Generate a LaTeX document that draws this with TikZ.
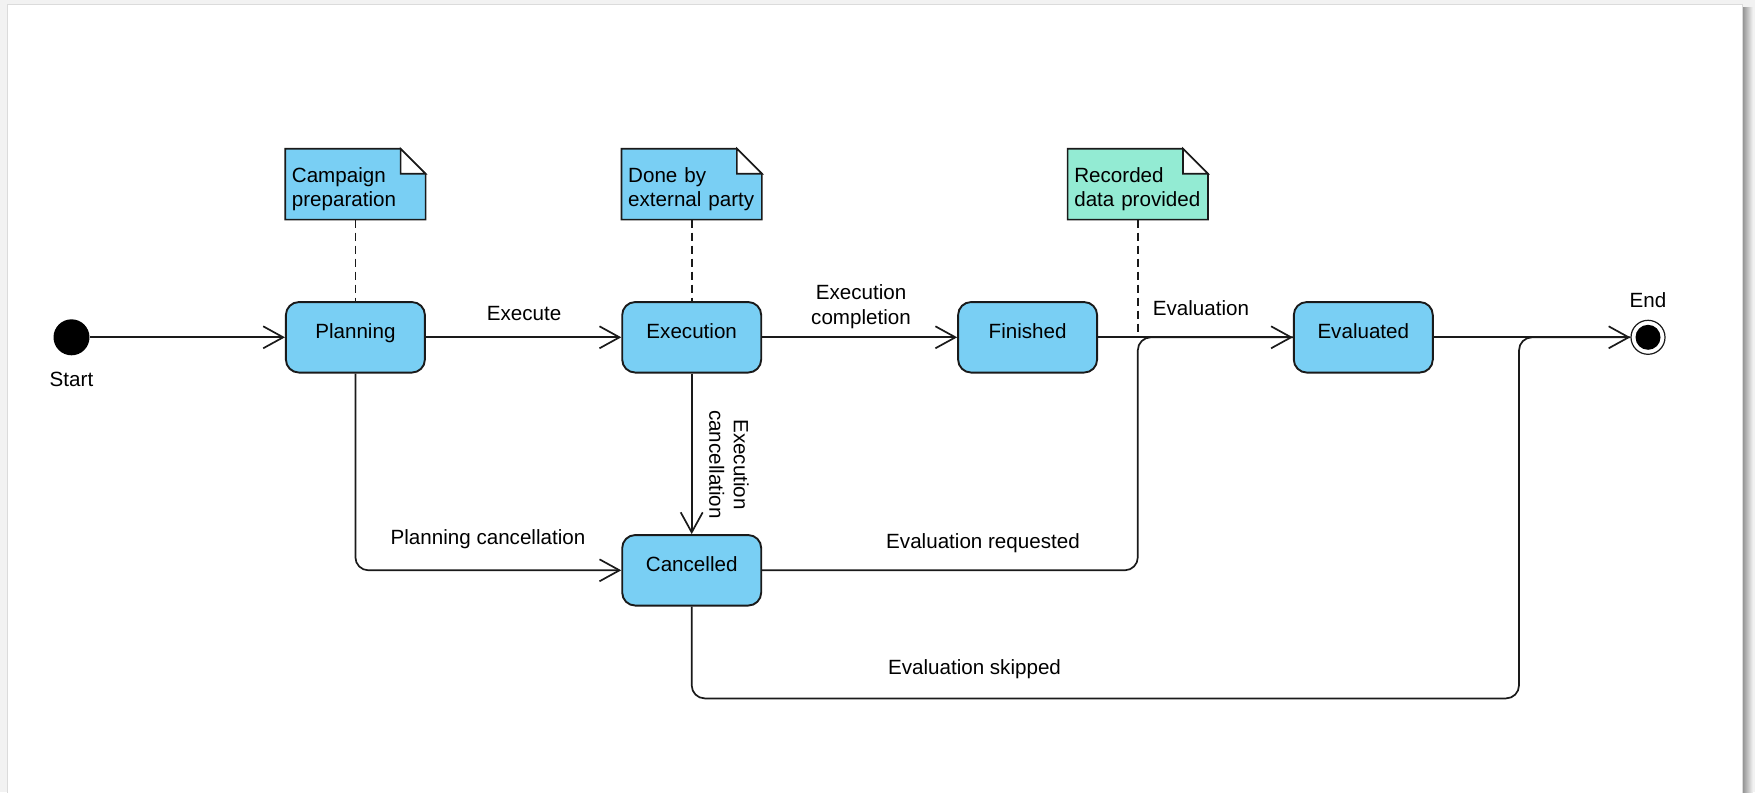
\documentclass[tikz,border=0pt]{standalone}
\usepackage{fontspec}
\setmainfont{Liberation Sans}
\usetikzlibrary{arrows.meta,calc}

\definecolor{statefill}{HTML}{79CFF4}
\definecolor{notemint}{HTML}{93EBD3}
\definecolor{inkline}{HTML}{1A1A1A}

\pgfdeclarelayer{page}
\pgfdeclarelayer{sheets}
\pgfsetlayers{page,sheets,main}

% note sheet with a folded top-right corner, drawn around a text node
\newcommand\dogear[2]{%
  \filldraw[paper, fill=#2] (#1.north west) -- ([xshift=-25pt]#1.north east)
    -- ([yshift=-25pt]#1.north east) -- (#1.south east) -- (#1.south west) -- cycle;
  \filldraw[paper, fill=white] ([xshift=-25pt]#1.north east)
    -- ([xshift=-25pt,yshift=-25pt]#1.north east) -- ([yshift=-25pt]#1.north east) -- cycle;}

\begin{document}
\begin{tikzpicture}[x=1pt,y=-1pt,
  font={\fontsize{20.6pt}{24.5pt}\selectfont},
  stateshape/.style={draw=inkline, fill=statefill, line width=1.9pt, rounded corners=13pt,
    minimum width=139pt, minimum height=70.5pt, inner sep=0pt, text height=15pt, text depth=12pt},
  notetext/.style={minimum width=140pt, minimum height=70.5pt, inner xsep=6.5pt, inner ysep=0pt,
    text width=127pt, align=left},
  paper/.style={draw=inkline, line width=1.6pt, line join=miter},
  trans/.style={draw=inkline, line width=1.7pt, rounded corners=13pt},
  opentip/.style={-{Straight Barb[length=20pt,width=22pt]}},
  anchorline/.style={draw=inkline, line width=1.6pt, dash pattern=on 8pt off 5pt},
  lbl/.style={inner sep=0pt, align=center},
]
\useasboundingbox (0,0) rectangle (1755,792);

% sheet of paper with its shadow
\begin{pgfonlayer}{page}
  \fill[black!5] (0,0) rectangle (1755,792);
  \shade[left color=black!45, right color=black!4] (1742,8) rectangle (1753,792);
  \filldraw[fill=white, draw=black!14, line width=1pt] (7,5) rectangle (1742,800);
\end{pgfonlayer}

% states
\node[stateshape] (planning)  at (355.4,337.3) {Planning};
\node[stateshape] (execution) at (691.7,337.3) {Execution};
\node[stateshape] (finished)  at (1027.6,337.3) {Finished};
\node[stateshape] (evaluated) at (1363.3,337.3) {Evaluated};
\node[stateshape] (cancelled) at (691.7,570.3) {Cancelled};

% initial and final pseudo-states
\node[circle, fill=black, minimum size=36pt, inner sep=0pt] (start) at (71.5,337.3) {};
\node[lbl] (startlbl) at (71.5,379) {Start};
\node[circle, draw=inkline, line width=1.2pt, fill=white, minimum size=34pt, inner sep=0pt] (final) at (1648,337.3) {};
\node[circle, fill=black, minimum size=25pt, inner sep=0pt] (finaldot) at (final.center) {};
\node[lbl] (endlbl) at (1648,300) {End};

% notes
\node[notetext] (plannote) at (355.4,184.2) {\rule{0pt}{24.5pt}Campaign\\preparation};
\node[notetext] (execnote) at (691.7,184.2) {\rule{0pt}{24.5pt}Done by\\external party};
\node[notetext] (recnote)  at (1137.8,184.2) {\rule{0pt}{24.5pt}Recorded\\data provided};
\begin{pgfonlayer}{sheets}
  \dogear{plannote}{statefill}
  \dogear{execnote}{statefill}
  \dogear{recnote}{notemint}
\end{pgfonlayer}

% transitions
\draw[trans, opentip] (start) -- (planning);
\draw[trans, opentip] (planning) -- (execution) node[lbl] at (524,313.4) {Execute};
\draw[trans, opentip] (execution) -- (finished) node[lbl] at (861,306.5) {Execution\\completion};
\draw[trans, opentip] (finished) -- (evaluated) node[lbl] at (1201,308.3) {Evaluation};
\draw[trans, opentip] (evaluated) -- (final);
\draw[trans, opentip] (execution) -- (cancelled)
  node[lbl, rotate=-90] at (729,464.5) {Execution\\cancellation};
\draw[trans, opentip] (planning) |- (cancelled)
  node[lbl] at (488,539) {Planning cancellation};
\draw[trans] (cancelled) -- (cancelled.east -| recnote.south)
  -- (evaluated.west -| recnote.south) -- (evaluated)
  node[lbl] at (983,543) {Evaluation requested};
\coordinate (skipturn) at (1519,698.4);
\draw[trans] (cancelled) |- (skipturn) |- (final)
  node[lbl] at (974.5,669.3) {Evaluation skipped};

% note anchors
\draw[anchorline] (plannote) -- (planning);
\draw[anchorline] (execnote) -- (execution);
\draw[anchorline] (recnote) -- (recnote.south |- evaluated.west);
\end{tikzpicture}
\end{document}
